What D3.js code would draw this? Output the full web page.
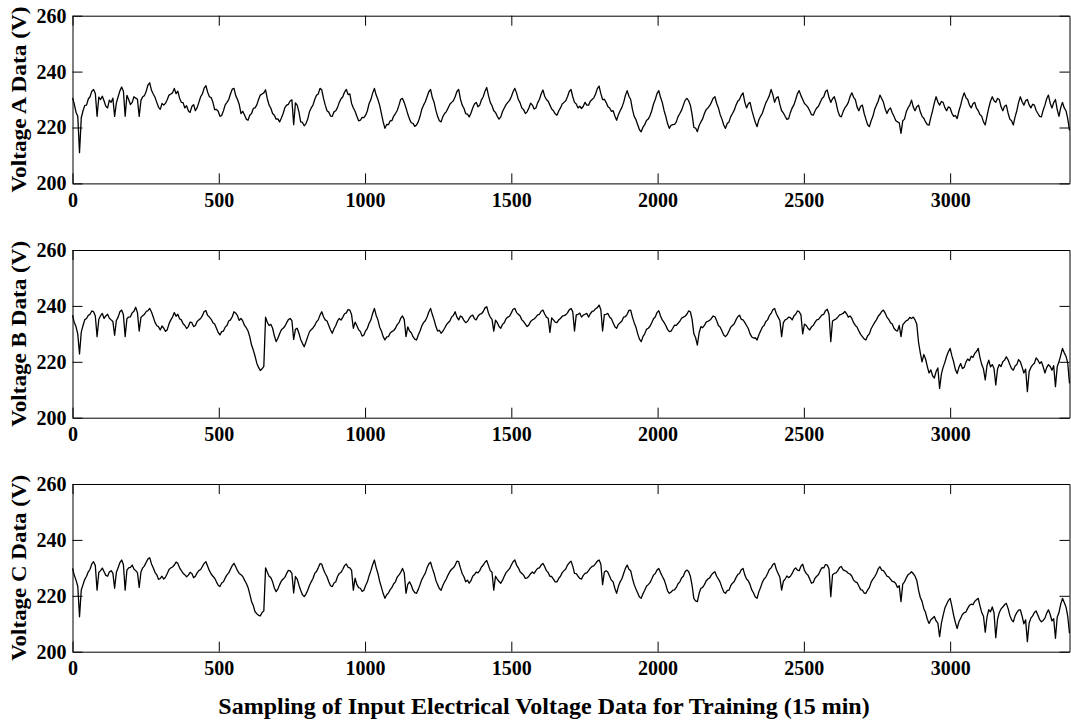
<!DOCTYPE html>
<html>
<head>
<meta charset="utf-8">
<script src="https://cdn.jsdelivr.net/npm/d3@7"></script>
<style>
  body { margin: 0; background: #fff; }
  text { font-family: 'Liberation Serif', 'Times New Roman', serif; font-weight: bold; fill: #000; }
</style>
</head>
<body>
<div id="chart"></div>
<script>
// Readings are every 6th sample of the 15 min series (16 per line = one day).
const sampleStep = 6;

const voltageA = [
  230.6, 228.4, 225.5, 224.0, 211, 223.5, 226, 227.9, 228, 230.2, 231, 233.0, 233.6, 232.2, 224, 230.9,
  230, 231.2, 229.5, 227.6, 227, 229.8, 229, 230.5, 224, 228.8, 231, 233.1, 234.5, 233.0, 224, 231.5,
  230, 228.2, 229, 231.0, 230.5, 230.1, 224, 229.7, 231, 231.4, 233, 235.2, 236, 233.3, 232, 230.8,
  229, 227.3, 226.5, 228.6, 228, 228.7, 230, 231.6, 232, 232.4, 234, 232.1, 233, 230.5, 229, 228.9,
  227, 227.8, 226, 225.4, 227.5, 228.2, 226, 227.1, 229, 231.0, 232, 234.1, 235, 232.6, 231, 230.7,
  229, 226.4, 226.5, 225.8, 224, 224.3, 226, 228.1, 229, 230.0, 232, 233.7, 234, 231.4, 230, 228.2,
  225, 225.8, 224.5, 223.0, 222.6, 224.4, 225, 226.8, 227, 228.1, 230, 231.6, 232, 232.4, 233.5, 230.2,
  228, 226.9, 225, 224.4, 223, 223.1, 222, 223.4, 225, 227.1, 228, 228.3, 229.5, 229.9, 221, 228.8,
  228, 225.6, 222, 221.8, 220.6, 221.4, 223, 225.6, 227, 228.0, 230, 231.5, 232, 234.0, 233.5, 230.4,
  228, 226.0, 225.5, 224.1, 224, 225.6, 226, 227.2, 229, 230.3, 231, 232.7, 233.6, 231.8, 232, 228.6,
  227, 225.8, 224, 222.4, 222.6, 223.6, 223.5, 224.4, 226, 228.6, 230, 232.3, 234, 231.6, 230, 227.9,
  225, 222.0, 219.7, 221.1, 221, 222.4, 222.5, 224.1, 225, 226.1, 228, 230.1, 230.4, 228.9, 227, 224.8,
  223, 221.7, 221.5, 220.4, 220.9, 222.1, 224, 226.5, 228, 229.2, 231, 232.8, 233.6, 230.7, 229, 226.2,
  224, 222.4, 222, 223.9, 225, 225.7, 227, 228.3, 229, 229.6, 231, 232.9, 233.6, 230.2, 228, 226.9,
  225, 224.8, 223.8, 225.1, 227, 228.4, 229, 227.4, 228, 229.9, 231, 233.0, 234.3, 231.4, 229, 227.8,
  226, 225.4, 224, 223.0, 223.8, 225.7, 227, 228.2, 229, 229.7, 231, 232.8, 234, 232.3, 230, 228.8,
  227, 226.4, 225, 225.6, 227, 228.7, 228, 226.6, 227, 228.8, 230, 232.0, 233.4, 231.2, 230, 229.4,
  228, 226.6, 226, 224.9, 224.4, 225.9, 227, 228.4, 229, 229.6, 231, 232.9, 233.6, 231.0, 229, 228.4,
  227, 227.6, 226.8, 227.6, 229, 228.0, 228, 229.4, 230, 230.6, 232, 233.9, 234.8, 232.1, 230, 230.1,
  229, 227.5, 227, 225.8, 226, 224.1, 222.6, 224.6, 226, 227.2, 229, 231.5, 233.2, 231.2, 230, 226.5,
  224, 222.8, 221, 219.2, 218.5, 220.1, 221, 222.5, 223, 224.2, 226, 228.4, 230, 232.1, 233.2, 230.8,
  229, 226.1, 224, 221.4, 219.7, 220.8, 221, 221.1, 222, 223.9, 225, 226.2, 228, 229.7, 230.4, 229.6,
  228, 224.6, 220, 219.8, 218.5, 220.7, 222, 223.1, 225, 226.4, 227, 227.8, 229, 230.5, 231, 228.6,
  227, 224.6, 223, 220.9, 219.7, 221.4, 222, 223.9, 225, 226.2, 228, 229.4, 230, 231.5, 232.4, 229.1,
  227, 228.4, 229, 226.2, 224, 221.9, 220.3, 222.7, 224, 225.1, 227, 228.8, 230, 231.4, 233.6, 231.7,
  229, 230.6, 231, 228.2, 226, 225.2, 224, 222.9, 223.2, 225.4, 227, 228.1, 230, 232.1, 233.2, 231.4,
  230, 228.6, 228, 227.2, 226, 224.6, 224.4, 225.9, 227, 227.6, 229, 230.4, 231, 232.9, 233.4, 230.7,
  229, 230.3, 231, 228.9, 226, 224.2, 223.8, 225.6, 227, 227.8, 229, 231.1, 232.4, 230.8, 230, 227.3,
  226, 227.6, 228, 225.1, 223, 221.0, 220.3, 222.4, 224, 226.5, 228, 229.4, 231.6, 230.4, 229, 226.6,
  225, 226.4, 227, 225.3, 224, 222.5, 222, 221.7, 217.9, 222.4, 223, 225.6, 227, 228.0, 229.8, 227.3,
  226, 227.4, 228, 225.6, 224, 223.3, 222, 221.0, 220.9, 223.6, 226, 228.8, 231, 229.1, 228, 229.3,
  229, 227.1, 226, 227.4, 227, 225.1, 224, 224.3, 223.2, 225.9, 228, 230.6, 232.4, 230.7, 230, 228.0,
  227, 228.5, 229, 226.9, 226, 224.6, 224, 222.0, 220.9, 224.1, 227, 229.4, 231, 229.6, 229, 230.4,
  230, 227.4, 226, 227.6, 228, 225.2, 223, 222.4, 220.9, 223.8, 226, 229.0, 231, 229.2, 228, 229.6,
  230, 228.1, 227, 228.3, 228, 226.1, 225, 224.0, 223.8, 226.2, 228, 230.3, 231.6, 228.7, 227, 228.9,
  230, 226.4, 224, 227.1, 229, 227.0, 226, 223.2, 219
];

const voltageB = [
  236.7, 234.1, 232.6, 229.9, 222.8, 230.6, 233, 235.1, 235.5, 236.6, 237, 238.2, 237.9, 236.4, 229, 235.2,
  236.5, 237.3, 235.5, 236.4, 237, 235.6, 235, 234.4, 229.5, 234.8, 236, 237.9, 238.5, 236.8, 229, 235.4,
  236, 236.1, 237.5, 238.1, 239.5, 237.6, 231, 235.9, 236.5, 237.0, 238, 238.3, 239.1, 237.8, 236, 234.1,
  233, 232.5, 231.4, 232.8, 232, 230.9, 231.5, 233.6, 235, 236.0, 237.6, 236.3, 237, 235.4, 235, 233.6,
  233, 231.9, 232.6, 234.2, 234, 232.6, 233, 234.4, 235, 235.5, 236.5, 238.0, 238.3, 236.6, 236, 235.2,
  234, 233.5, 232, 230.5, 229.6, 230.8, 231, 232.4, 233, 234.6, 235, 236.1, 237.9, 237.4, 236.5, 234.8,
  235.5, 234.6, 233, 232.2, 231, 228.9, 226, 224.2, 222, 219.5, 218, 216.9, 217.5, 218.4, 236, 234.1,
  233, 233.4, 232, 229.3, 227.2, 228.4, 230, 231.5, 232, 232.7, 234, 235.1, 235.5, 234.7, 228, 231.6,
  232, 230.2, 228, 226.6, 225.4, 227.1, 229, 230.7, 231.5, 232.1, 233, 234.3, 235, 236.7, 237.9, 236.1,
  235, 234.6, 233, 231.4, 230.2, 231.8, 233, 234.6, 235.5, 234.9, 236, 237.2, 237.5, 238.7, 238.5, 236.8,
  232, 234.2, 233, 231.5, 230.8, 229.2, 229.6, 231.1, 232, 233.8, 235, 237.3, 239.1, 236.6, 235, 232.4,
  231, 229.0, 227.8, 228.9, 229, 230.3, 230.8, 231.2, 232, 233.3, 234, 235.6, 236.4, 235.1, 229, 232.5,
  231, 230.4, 229, 228.1, 227.8, 229.6, 231, 232.8, 234, 234.7, 236, 237.8, 239.1, 236.9, 235, 232.7,
  231, 231.3, 230.2, 231.0, 232, 233.2, 234, 234.6, 236, 236.6, 237.9, 236.0, 235, 236.4, 236, 234.8,
  234, 234.4, 235.5, 236.4, 236.7, 235.4, 235, 236.3, 237, 237.2, 238, 239.3, 239.7, 237.4, 236, 235.2,
  231, 234.9, 234, 232.6, 232, 233.4, 234, 235.4, 236, 236.3, 237.5, 238.8, 239.1, 237.6, 237, 236.4,
  235, 234.4, 233.5, 232.6, 233.2, 234.4, 235, 235.3, 236, 236.8, 237, 238.1, 238.5, 237.1, 236, 235.6,
  230.5, 235.7, 235, 234.2, 234, 235.0, 235.5, 236.3, 236.5, 236.8, 237.5, 238.6, 239.1, 237.9, 231, 236.8,
  237, 237.4, 236, 236.7, 237, 237.3, 236, 237.2, 238, 238.2, 239, 239.4, 240.3, 238.6, 231, 236.9,
  237, 237.3, 236, 235.4, 234, 232.5, 232, 233.4, 234, 234.6, 236, 236.2, 237, 238.4, 238.5, 236.0,
  234, 232.4, 230, 228.1, 227.2, 229.0, 230, 231.6, 232, 232.7, 234, 235.4, 236, 237.6, 238.3, 236.4,
  235, 234.1, 233, 231.6, 230.8, 231.0, 232, 233.1, 233, 233.8, 234.5, 235.6, 236, 236.3, 237, 238.2,
  237.9, 235.2, 230, 228.6, 226, 230.4, 232.6, 232.2, 233, 234.2, 234.5, 234.8, 235.5, 236.4, 236.1, 234.7,
  233, 232.4, 231, 229.6, 229, 229.7, 231, 232.4, 233, 233.6, 235, 236.1, 236.7, 235.2, 235, 234.1,
  233, 231.9, 230, 228.9, 228.5, 228.6, 227.8, 229.6, 231, 232.4, 233, 234.4, 235, 236.5, 237.3, 238.6,
  239.1, 237.2, 236, 234.8, 229, 234.0, 235, 235.3, 236, 235.8, 235, 236.4, 237, 238.2, 237.9, 236.8,
  230, 233.5, 233, 232.0, 231.4, 232.5, 233, 234.1, 235, 235.2, 236, 236.8, 237, 238.3, 238.8, 237.0,
  227.2, 234.6, 235, 235.3, 236, 236.8, 237, 237.3, 238, 237.2, 236, 236.4, 235.5, 234.0, 233, 232.4,
  231, 229.8, 229, 228.2, 227.8, 229.3, 230, 231.8, 233, 234.1, 235, 236.3, 237, 238.0, 238.5, 237.4,
  236, 235.2, 234, 233.5, 232, 231.3, 231, 233.0, 229, 233.2, 234, 234.7, 235, 235.9, 235.5, 236.0,
  235, 233.4, 227, 223.2, 220, 222.6, 221, 218.3, 216, 217.1, 215, 214.2, 216.5, 217.8, 210.5, 215.6,
  218, 219.8, 222, 223.6, 224.8, 222.1, 220, 217.2, 215.8, 218.0, 219.4, 217.6, 218, 219.9, 221, 220.4,
  222, 221.6, 223, 223.7, 224.8, 221.5, 219, 217.4, 213.5, 218.7, 220.6, 218.2, 219, 217.6, 211.7, 217.4,
  219, 218.3, 220, 220.6, 221.8, 220.7, 219, 217.6, 217, 218.5, 219, 220.8, 220, 218.1, 216, 217.4,
  209.3, 216.4, 218, 218.9, 219.5, 221.4, 220.6, 219.4, 220, 218.2, 216, 217.9, 219, 218.3, 217, 218.6,
  211.1, 218.2, 220, 222.3, 224.8, 223.2, 222, 219.5, 212.3
];

const voltageC = [
  229.8, 227.4, 225.6, 223.4, 212.5, 222.1, 224, 225.9, 227, 228.6, 229.5, 231.4, 232.2, 230.8, 222, 228.4,
  229, 229.9, 228.6, 227.3, 227, 228.5, 229, 228.1, 222.7, 228.4, 230, 231.9, 232.8, 231.2, 222, 229.2,
  230, 230.2, 231, 229.6, 229, 228.3, 223, 228.5, 230, 230.7, 232, 233.2, 233.6, 231.4, 230, 228.4,
  227.5, 225.9, 226.2, 227.0, 226, 226.7, 228, 229.4, 230, 230.3, 231, 232.1, 231.6, 230.0, 229, 228.1,
  227.5, 226.8, 227.4, 228.4, 228, 226.5, 227, 228.2, 229, 229.4, 230.5, 231.6, 232.2, 230.6, 229, 227.8,
  227, 226.3, 225, 223.8, 223.3, 224.6, 225, 226.4, 227.5, 228.2, 229.5, 230.8, 231.6, 230.4, 229, 228.0,
  227.5, 226.9, 225.6, 224.5, 223, 220.6, 218, 216.5, 214.3, 213.6, 213, 212.8, 214, 214.6, 230, 228.4,
  227, 226.5, 225, 222.8, 221.5, 222.4, 224, 225.3, 226, 226.6, 228, 229.1, 228.9, 228.0, 221, 226.9,
  226, 223.8, 222, 220.4, 219.7, 220.6, 222, 223.7, 225, 226.2, 228, 228.7, 230, 231.5, 231.3, 229.4,
  228, 226.8, 225, 223.6, 223.3, 224.6, 225, 226.9, 228, 228.4, 229.5, 230.8, 231.4, 230.2, 230, 229.1,
  222, 226.3, 224, 222.9, 222.7, 221.6, 222, 223.7, 225, 227.2, 229, 231.1, 232.8, 230.1, 228, 225.2,
  223, 220.8, 219.1, 220.4, 221, 222.2, 223, 224.3, 225, 226.7, 227.5, 228.4, 229.8, 228.2, 220.9, 224.1,
  225, 223.8, 222, 221.1, 220.9, 222.3, 224, 225.8, 227, 228.1, 230, 231.4, 232, 229.8, 228, 225.6,
  224, 222.6, 222, 223.7, 225, 226.1, 227.5, 228.7, 229.5, 230.0, 231, 232.4, 232.2, 230.0, 228, 226.8,
  225, 225.6, 224.5, 225.4, 227, 227.6, 228.5, 228.2, 229, 230.3, 231, 232.0, 232.6, 230.8, 229, 228.4,
  222, 227.0, 226, 225.1, 224.5, 225.6, 227, 228.3, 229, 229.7, 231, 232.2, 232.8, 231.0, 230, 228.6,
  228, 227.4, 226.2, 226.4, 227, 227.9, 228.5, 228.0, 229, 229.8, 230, 231.0, 231.6, 230.5, 229, 228.3,
  227, 226.9, 226, 225.0, 225, 226.2, 227, 228.3, 229, 229.6, 231, 231.8, 232.4, 230.6, 228, 227.9,
  227, 226.2, 226, 227.3, 228, 228.2, 229, 229.9, 230.5, 230.7, 231.5, 232.4, 232.8, 231.4, 224, 228.5,
  229, 228.4, 227, 225.6, 225, 222.6, 220.9, 223.4, 225, 226.1, 228, 229.8, 231, 229.5, 229, 226.2,
  224, 222.4, 221, 219.6, 219.1, 220.7, 222, 223.4, 224, 224.7, 226, 227.4, 228, 229.2, 229.8, 228.3,
  227, 225.8, 224, 221.8, 220.9, 221.3, 222, 222.1, 223, 224.3, 225, 226.4, 227, 228.6, 229.2, 228.7,
  227, 223.6, 219, 218.2, 217.9, 220.9, 222.7, 223.0, 224, 225.3, 226, 226.4, 227.5, 228.2, 228.6, 227.0,
  226, 224.8, 223, 221.4, 220.9, 221.9, 222, 223.6, 224.5, 225.1, 226.5, 227.6, 228, 229.3, 229.8, 227.5,
  226, 225.4, 224, 222.1, 221, 219.6, 219.1, 221.4, 223, 224.8, 226, 226.7, 228, 229.4, 230, 231.2,
  231.6, 229.4, 228, 226.6, 222, 225.2, 226, 227.1, 226.5, 227.0, 228, 229.3, 230, 229.2, 229, 230.6,
  231.3, 229.1, 228, 227.4, 226, 224.5, 224.8, 226.3, 227, 227.6, 229, 230.1, 230, 231.2, 231, 229.6,
  219.7, 227.5, 228, 228.2, 229, 230.1, 230.5, 229.3, 229, 228.7, 228, 227.8, 227, 225.6, 225, 224.7,
  223.5, 222.2, 222, 221.0, 220.9, 222.1, 223, 224.9, 226, 226.8, 228, 229.6, 230.4, 229.2, 229, 228.1,
  227, 226.8, 226, 225.2, 225, 224.4, 223, 223.6, 217.9, 224.2, 225, 226.4, 227.5, 228.0, 228.6, 227.9,
  227, 225.5, 222, 219.4, 218, 215.4, 214, 211.6, 210.1, 211.4, 212, 212.6, 211, 210.2, 205.4, 210.1,
  213, 215.6, 217, 218.3, 219.1, 216.2, 213, 210.4, 208.3, 210.7, 212, 213.3, 214, 214.2, 215.5, 216.6,
  217, 216.8, 218, 218.6, 219.1, 216.4, 214, 212.7, 207, 212.4, 215, 214.3, 216, 213.9, 205, 211.6,
  214, 215.3, 216, 216.8, 217.3, 215.5, 213, 211.4, 210.7, 212.8, 214, 214.9, 215, 212.7, 210, 211.4,
  203.6, 210.2, 212, 212.8, 214, 214.6, 213, 211.5, 210.7, 211.2, 212, 213.8, 215, 213.3, 211, 211.8,
  204.8, 212.3, 214, 217.0, 219.1, 217.6, 216, 212.6, 206.6
];

const panelLabels = ['Voltage A Data (V)', 'Voltage B Data (V)', 'Voltage C Data (V)'];
const xTicks = [0, 500, 1000, 1500, 2000, 2500, 3000];
const yTicks = [200, 220, 240, 260];
const xTitle = 'Sampling of Input Electrical Voltage Data for Training (15 min)';

(function() {
  const width = 1071;
  const height = 723;

  // Plot box, shared by the three stacked panels.
  const left = 72.5;
  const right = 1069.5;
  const panelTops = [15.7, 250, 484];
  const panelHeight = 167.7;
  const tickLen = 10;

  const svg = d3.select('#chart')
    .append('svg')
    .attr('width', width)
    .attr('height', height);

  const series = [voltageA, voltageB, voltageC];
  const lastSample = (voltageA.length - 1) * sampleStep;

  const x = d3.scaleLinear()
    .domain([0, lastSample])
    .range([left, right]);

  series.forEach((values, p) => {
    const top = panelTops[p];
    const bottom = top + panelHeight;

    const y = d3.scaleLinear()
      .domain([200, 260])
      .range([bottom, top]);

    const panel = svg.append('g')
      .classed('panel', true);

    // The trace itself
    const line = d3.line()
      .x((d, i) => x(i * sampleStep))
      .y(d => y(d));

    panel.append('path')
      .datum(values)
      .attr('d', line)
      .style('fill', 'none')
      .style('stroke', '#000')
      .style('stroke-width', 1.3)
      .style('stroke-linejoin', 'round');

    // Box with inward ticks on all four sides, matlab style.
    const bottomAxis = d3.axisBottom(x)
      .tickValues(xTicks)
      .tickFormat(d3.format('d'))
      .tickSizeInner(-tickLen)
      .tickSizeOuter(0)
      .tickPadding(9);
    const topAxis = d3.axisTop(x)
      .tickValues(xTicks)
      .tickSizeInner(-tickLen)
      .tickSizeOuter(0)
      .tickFormat('');
    const leftAxis = d3.axisLeft(y)
      .tickValues(yTicks)
      .tickSizeInner(-tickLen)
      .tickSizeOuter(0)
      .tickPadding(6);
    const rightAxis = d3.axisRight(y)
      .tickValues(yTicks)
      .tickSizeInner(-tickLen)
      .tickSizeOuter(0)
      .tickFormat('');

    panel.append('g')
      .attr('transform', `translate(0, ${bottom})`)
      .call(bottomAxis);
    panel.append('g')
      .attr('transform', `translate(0, ${top})`)
      .call(topAxis);
    panel.append('g')
      .attr('transform', `translate(${left}, 0)`)
      .call(leftAxis);
    panel.append('g')
      .attr('transform', `translate(${right}, 0)`)
      .call(rightAxis);

    panel.selectAll('.domain, .tick line')
      .style('stroke', '#000')
      .style('stroke-width', 1);
    panel.selectAll('.tick text')
      .style('font-family', "'Liberation Serif', 'Times New Roman', serif")
      .style('font-weight', 'bold')
      .style('font-size', '20px')
      .style('fill', '#000');

    // Panel label, rotated
    panel.append('text')
      .text(panelLabels[p])
      .attr('transform', `translate(26, ${(top + bottom) / 2}) rotate(-90)`)
      .attr('textLength', 186)
      .attr('lengthAdjust', 'spacingAndGlyphs')
      .style('text-anchor', 'middle')
      .style('font-size', '20px');
  });

  // Shared x title under the last panel
  svg.append('text')
    .text(xTitle)
    .attr('x', 544)
    .attr('y', 714)
    .style('text-anchor', 'middle')
    .style('font-size', '24px');
})();
</script>
</body>
</html>
